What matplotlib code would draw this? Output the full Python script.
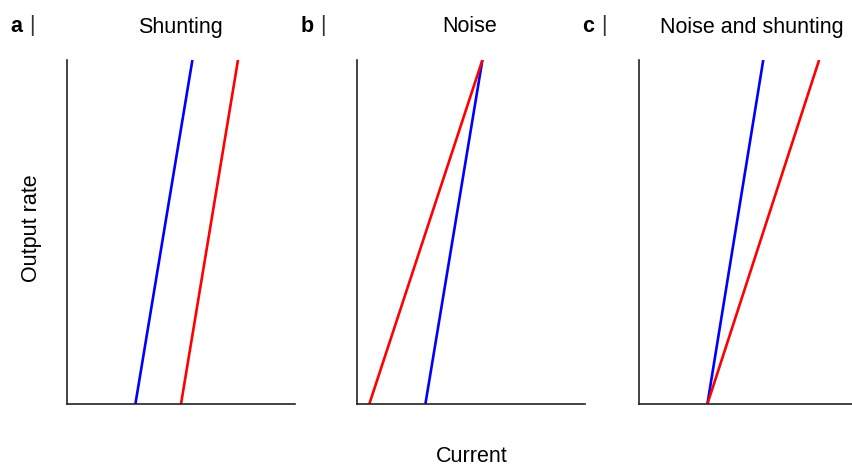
import matplotlib
matplotlib.use("Agg")
import matplotlib.pyplot as plt

plt.rcParams['font.family'] = ['Liberation Sans', 'DejaVu Sans']

titles = ["Shunting", "Noise", "Noise and shunting"]
letters = ["a", "b", "c"]
# (x at bottom, x at top) for each line, y from 0 to 1
blue_x = [[0.30, 0.55], [0.30, 0.55], [0.30, 0.545]]
red_x = [[0.50, 0.75], [0.054, 0.55], [0.30, 0.79]]
y_vals = [0.0, 1.0]

W, H = 852, 466
fig = plt.figure(figsize=(W / 100, H / 100), dpi=100)

lefts = [67, 357, 639]
width = 228
top, bottom = 60, 404
title_cx = [180, 470, 752]

for i in range(3):
    ax = fig.add_axes([lefts[i] / W, 1 - bottom / H, width / W, (bottom - top) / H])
    ax.plot(blue_x[i], y_vals, color='#0000ff', lw=1.9, solid_capstyle='butt')
    ax.plot(red_x[i], y_vals, color='#ff0000', lw=1.9, solid_capstyle='butt')
    ax.set_xlim(0, 1)
    ax.set_ylim(0, 1)
    ax.set_xticks([])
    ax.set_yticks([])
    for s in ['top', 'right']:
        ax.spines[s].set_visible(False)
    for s in ['left', 'bottom']:
        ax.spines[s].set_color('#222222')
        ax.spines[s].set_linewidth(1.2)
    fig.text(title_cx[i] / W, 1 - 27 / H, titles[i],
             ha='center', va='center', fontsize=15.5)

label_x = [10, 301, 582]
for i in range(3):
    fig.text(label_x[i] / W, 1 - 27 / H, letters[i], ha='left', va='center',
             fontsize=15.5, fontweight='bold')
    fig.text((label_x[i] + 22) / W, 1 - 26 / H, "|", ha='center', va='center',
             fontsize=15.5, color='#333333')

fig.text(32 / W, 1 - 228 / H, "Output rate", rotation=90, ha='center', va='center', fontsize=15.5)
fig.text(472 / W, 1 - 457 / H, "Current", ha='center', va='center', fontsize=15.5)

fig.savefig("out.png", dpi=100)
